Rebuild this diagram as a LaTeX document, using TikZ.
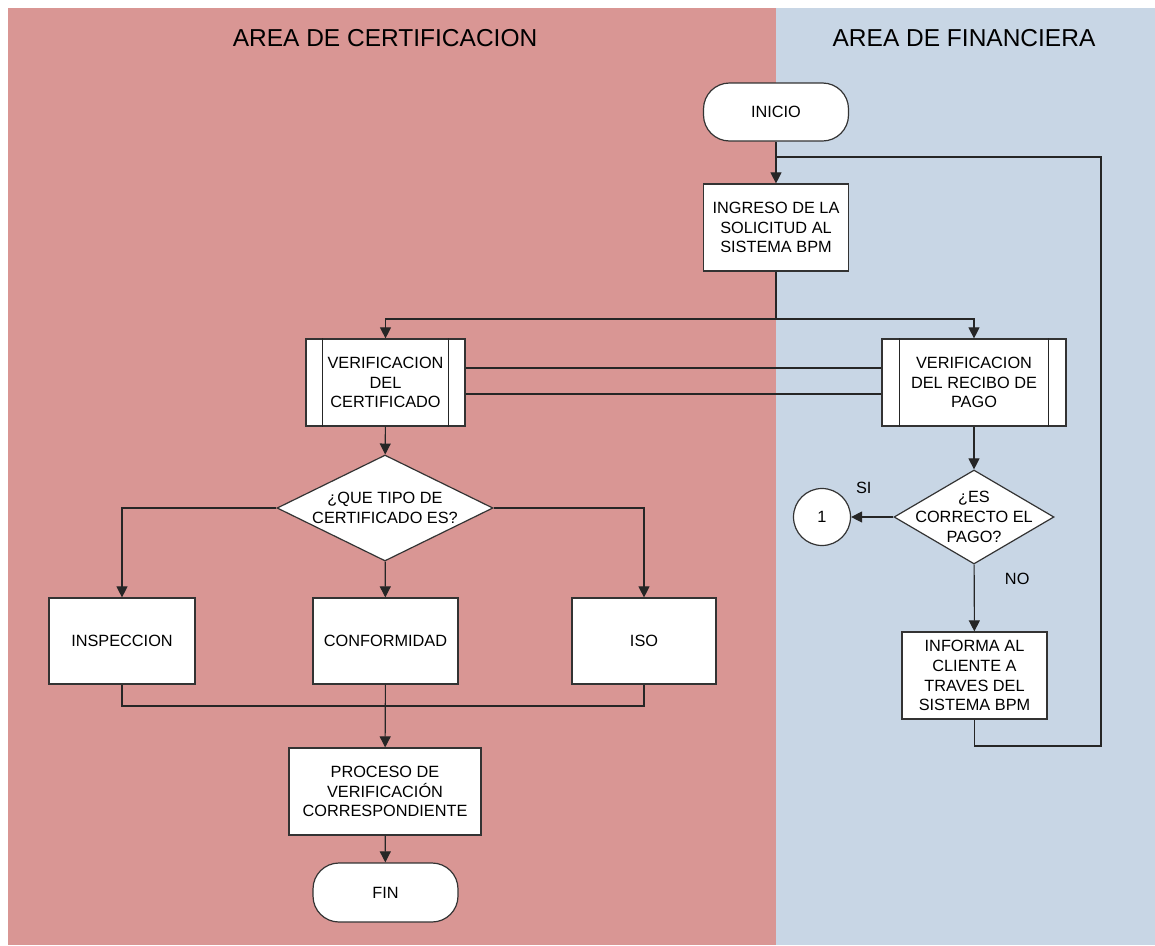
\documentclass[tikz,border=0pt]{standalone}
\usepackage{fontspec}
\setmainfont{Liberation Sans}
\usetikzlibrary{shapes.geometric,arrows.meta}
\definecolor{certarea}{RGB}{217,150,148}
\definecolor{finarea}{RGB}{200,214,229}
\newcommand{\boxfont}{\fontsize{16.3}{19.8}\selectfont}

\begin{document}
\begin{tikzpicture}[x=1pt, y=-1pt, line width=1.1pt,
		box node/.style={rectangle,draw=black!80,line width=1.2pt,fill=white,align=center,font=\boxfont,
			minimum width=145pt,minimum height=87pt,inner sep=0pt},
		end node/.style={box node,rounded corners=26pt,minimum height=58pt},
		decision node/.style={diamond,draw=black!80,line width=1.2pt,fill=white,inner sep=0pt,
			label={[align=center,font=\boxfont]center:#1}},
		link node/.style={circle,draw=black!80,line width=1.2pt,fill=white,minimum size=57pt,inner sep=0pt,font=\boxfont},
		title node/.style={font=\fontsize{24.5}{30}\selectfont},
		flow/.style={draw=black!85,-{Triangle[length=11pt,width=11pt]}},
		plain/.style={draw=black!85}]

	\useasboundingbox (0,0) rectangle (1155,945);
	\fill[certarea] (8,8) rectangle (776,945);
	\fill[finarea] (776,8) rectangle (1155,945);

	\node[title node] (t1) at (385,38) {AREA DE CERTIFICACION};
	\node[title node] (t2) at (964,38) {AREA DE FINANCIERA};

	\node[end node] (1) at (776,112) {INICIO};
	\node[box node] (2) at (776,227.5) {INGRESO DE LA\\SOLICITUD AL\\SISTEMA BPM};
	\node[box node,minimum width=159pt] (3) at (385.5,382.5) {VERIFICACION\\DEL\\CERTIFICADO};
	\node[box node,minimum width=184pt] (4) at (974,382.5) {VERIFICACION\\DEL RECIBO DE\\PAGO};
	\node[decision node={{¿QUE TIPO DE\\CERTIFICADO ES?}},minimum width=216pt,minimum height=106pt] (5) at (385,508) {};
	\node[box node,minimum width=146pt,minimum height=86pt] (6) at (122,641) {INSPECCION};
	\node[box node,minimum height=86pt] (7) at (385.5,641) {CONFORMIDAD};
	\node[box node,minimum width=144pt,minimum height=86pt] (8) at (644,641) {ISO};
	\node[box node,minimum width=192pt] (9) at (385,791.5) {PROCESO DE\\VERIFICACIÓN\\CORRESPONDIENTE};
	\node[end node,minimum height=59pt] (10) at (385.5,892.5) {FIN};
	\node[decision node={{¿ES\\CORRECTO EL\\PAGO?}},minimum width=160pt,minimum height=94pt] (11) at (974,517) {};
	\node[link node] (12) at (822,517) {1};
	\node[box node] (13) at (974.5,675.5) {INFORMA AL\\CLIENTE A\\TRAVES DEL\\SISTEMA BPM};

	% side bars of the two sub-processes
	\draw[plain] ([xshift=17pt]3.north west) -- ([xshift=17pt]3.south west);
	\draw[plain] ([xshift=-17pt]3.north east) -- ([xshift=-17pt]3.south east);
	\draw[plain] ([xshift=18pt]4.north west) -- ([xshift=18pt]4.south west);
	\draw[plain] ([xshift=-18pt]4.north east) -- ([xshift=-18pt]4.south east);

	\coordinate (s1) at (776,319);
	\coordinate (j1) at (385,706);
	\coordinate (r1) at (1101,746);
	\coordinate (m1) at (776,157);

	\draw[flow] (1) -- (2);
	\draw[plain] (2) -- (s1);
	\draw[flow] (s1) -| (3);
	\draw[flow] (s1) -| (4);
	\draw[plain] ([yshift=14.5pt]3.east) -- ([yshift=14.5pt]3.east -| 4.west);
	\draw[plain] ([yshift=-11.5pt]3.east) -- ([yshift=-11.5pt]3.east -| 4.west);
	\draw[flow] (3) -- (5);
	\draw[flow] (5.west) -| (6);
	\draw[flow] (5) -- (7);
	\draw[flow] (5.east) -| (8);
	\draw[plain] (6) |- (j1) -| (8);
	\draw[flow] (7) -- (9);
	\draw[flow] (9) -- (10);
	\draw[flow] (4) -- (11);
	\draw[flow] (11.west) -- node[pos=0.7,yshift=29pt,font=\boxfont] {SI} (12);
	\draw[flow] (11) -- node[pos=0.22,xshift=43pt,font=\boxfont] {NO} (13);
	\draw[plain] (13) |- (r1) |- (m1);

\end{tikzpicture}
\end{document}
